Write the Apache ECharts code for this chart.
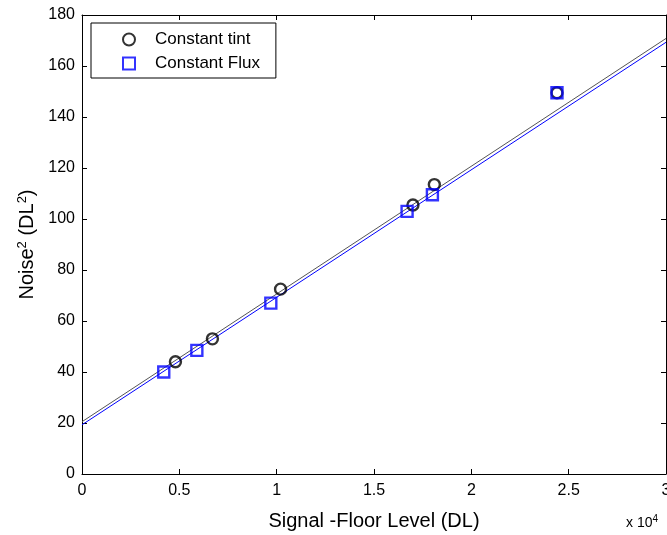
<!DOCTYPE html>
<html><head><meta charset="utf-8">
<script src="https://cdn.jsdelivr.net/npm/echarts@6/dist/echarts.min.js"></script>
<style>html,body{margin:0;padding:0;background:#fff}#c{width:667px;height:535px}</style>
</head><body><div id="c"></div>
<script>
// Data (x in DL, y in DL^2)
const tintX = [4800, 6700, 10200, 17000, 18100, 24400];
const tintY = [44, 53, 72.5, 105.5, 113.5, 149.5];
const fluxX = [4200, 5900, 9700, 16700, 18000, 24400];
const fluxY = [40, 48.5, 67, 103, 109.5, 149.5];
const tintFitX = [0, 30000];
const tintFitY = [20.5, 170.8];
const fluxFitX = [0, 30000];
const fluxFitY = [19.3, 169.3];
const xTicks = [0, 0.5, 1, 1.5, 2, 2.5, 3];
const yTicks = [0, 20, 40, 60, 80, 100, 120, 140, 160, 180];

const zip = (a, b) => a.map((v, i) => [v, b[i]]);
const font = 'Liberation Sans, Arial, sans-serif';
const chart = echarts.init(document.getElementById('c'), null, {renderer: 'canvas'});
const axisCommon = {
  axisLine: {show: true, onZero: false, lineStyle: {color: '#000', width: 1}},
  axisTick: {show: true, inside: true, length: 5, lineStyle: {color: '#000'}},
  splitLine: {show: false}
};
chart.setOption({
  animation: false,
  backgroundColor: '#fff',
  grid: {left: 82, top: 15, width: 584, height: 459, show: false, containLabel: false, outerBoundsMode: 'none'},
  legend: {
    show: true, orient: 'vertical', left: 91, top: 23,
    data: ['Constant tint', 'Constant Flux'],
    borderColor: '#000', borderWidth: 1, padding: [8, 16, 6, 31],
    itemGap: 7, itemWidth: 12, itemHeight: 12,
    textStyle: {fontFamily: font, fontSize: 17, color: '#000', padding: [0, 0, 0, 15]}
  },
  xAxis: [{
    type: 'value', min: 0, max: 30000, interval: 5000, position: 'bottom',
    ...axisCommon,
    axisLabel: {fontFamily: font, fontSize: 16, color: '#000', margin: 9,
      formatter: v => String(xTicks[Math.round(v / 5000)])},
    name: 'Signal -Floor Level (DL)', nameLocation: 'middle', nameGap: 37,
    nameTextStyle: {fontFamily: font, fontSize: 20, color: '#000'}
  }, {
    type: 'value', min: 0, max: 30000, interval: 5000, position: 'top',
    ...axisCommon, axisLabel: {show: false}
  }],
  yAxis: [{
    type: 'value', min: 0, max: 180, interval: 20, position: 'left',
    ...axisCommon,
    axisLabel: {fontFamily: font, fontSize: 16, color: '#000', margin: 7,
      formatter: v => String(yTicks[Math.round(v / 20)])},
    name: '{a|Noise}{s|2}{a| (DL}{s|2}{a|)}', nameLocation: 'middle', nameGap: 42,
    nameTextStyle: {fontFamily: font, fontSize: 20, color: '#000',
      rich: {a: {fontFamily: font, fontSize: 20, color: '#000'},
             s: {fontFamily: font, fontSize: 13, color: '#000', verticalAlign: 'top', padding: [0, 0, 10, 0]}}}
  }, {
    type: 'value', min: 0, max: 180, interval: 20, position: 'right',
    ...axisCommon, axisLabel: {show: false}
  }],
  series: [
    {type: 'line', name: 'fit tint', data: zip(tintFitX, tintFitY), symbol: 'none',
     lineStyle: {color: '#555', width: 1}, silent: true, z: 2},
    {type: 'line', name: 'fit flux', data: zip(fluxFitX, fluxFitY), symbol: 'none',
     lineStyle: {color: '#0000ff', width: 1}, silent: true, z: 2},
    {type: 'scatter', name: 'Constant tint', data: zip(tintX, tintY), symbol: 'circle', symbolSize: 11,
     itemStyle: {color: 'rgba(255,255,255,0)', borderColor: '#000', borderWidth: 2.4}, z: 3},
    {type: 'scatter', name: 'Constant Flux', data: zip(fluxX, fluxY), symbol: 'rect', symbolSize: 11,
     itemStyle: {color: 'rgba(255,255,255,0)', borderColor: '#0000ff', borderWidth: 2.4}, z: 4}
  ],
  graphic: [{
    type: 'text', left: 626, top: 514,
    style: {text: '{a|x 10}{s|4}', rich: {a: {fontFamily: font, fontSize: 14, fill: '#000'},
      s: {fontFamily: font, fontSize: 10, fill: '#000', verticalAlign: 'top', padding: [0, 0, 9, 0]}}}
  }]
});
</script></body></html>
